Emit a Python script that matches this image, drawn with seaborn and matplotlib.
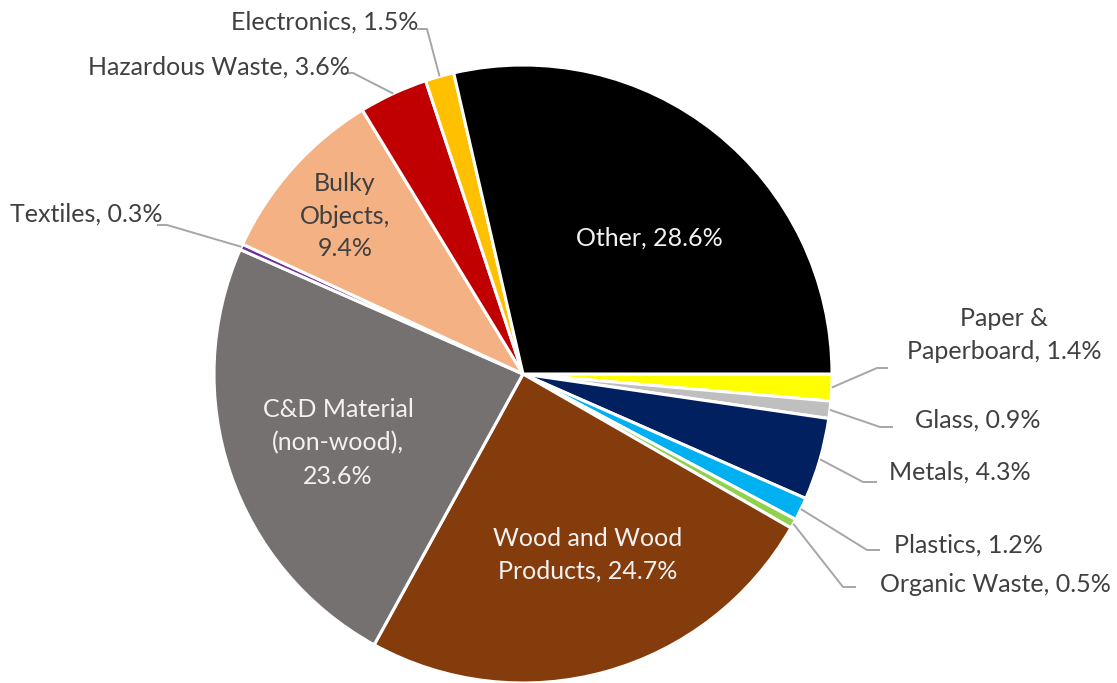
import matplotlib
matplotlib.use("Agg")
import matplotlib.pyplot as plt
import seaborn as sns
import numpy as np

# Waste composition shares (%), listed clockwise from 3 o'clock
categories = ["Paper & Paperboard", "Glass", "Metals", "Plastics", "Organic Waste",
              "Wood and Wood Products", "C&D Material (non-wood)", "Textiles",
              "Bulky Objects", "Hazardous Waste", "Electronics", "Other"]
shares = [1.4, 0.9, 4.3, 1.2, 0.5, 24.7, 23.6, 0.3, 9.4, 3.6, 1.5, 28.6]
colors = ["#FFFF00", "#BFBFBF", "#002060", "#00B0F0", "#92D050", "#843C0C",
          "#767171", "#7030A0", "#F4B183", "#C00000", "#FFC000", "#000000"]

# How each label breaks over lines ({} is the share)
label_formats = {
    "Paper & Paperboard": "Paper &\nPaperboard, {}%",
    "Wood and Wood Products": "Wood and Wood\nProducts, {}%",
    "C&D Material (non-wood)": "C&D Material\n(non-wood),\n{}%",
    "Bulky Objects": "Bulky\nObjects,\n{}%",
}

# Label placement in pixels (x, y from top); leader = (text end, elbow) or None
label_layout = {
    "Paper & Paperboard":      ((1004, 335), ((888, 368), (877, 368))),
    "Glass":                   ((978, 420), ((893, 427), (880, 427))),
    "Metals":                  ((960, 472), ((877, 482), (863, 482))),
    "Plastics":                ((968, 545), ((880, 550), (867, 550))),
    "Organic Waste":           ((995, 584), ((856, 587), (843, 587))),
    "Wood and Wood Products":  ((588, 555), None),
    "C&D Material (non-wood)": ((338, 443), None),
    "Textiles":                ((86, 214), ((157, 225), (167, 225))),
    "Bulky Objects":           ((345, 216), None),
    "Hazardous Waste":         ((219, 67), ((345, 73), (353, 73))),
    "Electronics":             ((325, 22), ((417, 29), (427, 29))),
    "Other":                   ((649, 238), None),
}
inside_dark = {"Bulky Objects"}

sns.set_theme(style="white")
plt.rcParams["font.family"] = ["Lato", "DejaVu Sans"]

W, H = 1117, 683
fig = plt.figure(figsize=(W / 100, H / 100), dpi=100)
ax = fig.add_axes([0, 0, 1, 1])

cx, cy, R = 523, H - 374, 309
wedges, _ = ax.pie(shares, colors=colors, startangle=0, counterclock=False,
                   center=(cx, cy), radius=R, frame=False,
                   wedgeprops=dict(edgecolor="white", linewidth=2.2))
ax.set_xlim(0, W)
ax.set_ylim(0, H)
ax.set_aspect("equal")
ax.axis("off")

dark = "#404040"
light = "#F2F2F2"
fs = 18

for wedge, cat, val in zip(wedges, categories, shares):
    fmt = label_formats.get(cat, cat + ", {}%")
    text = fmt.format(val)
    (tx, ty), leader = label_layout[cat]
    if leader is None:
        color = dark if cat in inside_dark else light
    else:
        color = dark
        mid = np.deg2rad((wedge.theta1 + wedge.theta2) / 2)
        wx = wedge.center[0] + wedge.r * np.cos(mid)
        wy = wedge.center[1] + wedge.r * np.sin(mid)
        (ax0, ay0), (ex, ey) = leader
        ax.plot([ax0, ex, wx], [H - ay0, H - ey, wy], color="#A6A6A6",
                lw=1.4, solid_capstyle="butt", zorder=1)
    ax.text(tx, H - ty, text, ha="center", va="center", fontsize=fs,
            color=color, linespacing=1.52, multialignment="center")

fig.savefig("out.png", dpi=100, facecolor="white")
